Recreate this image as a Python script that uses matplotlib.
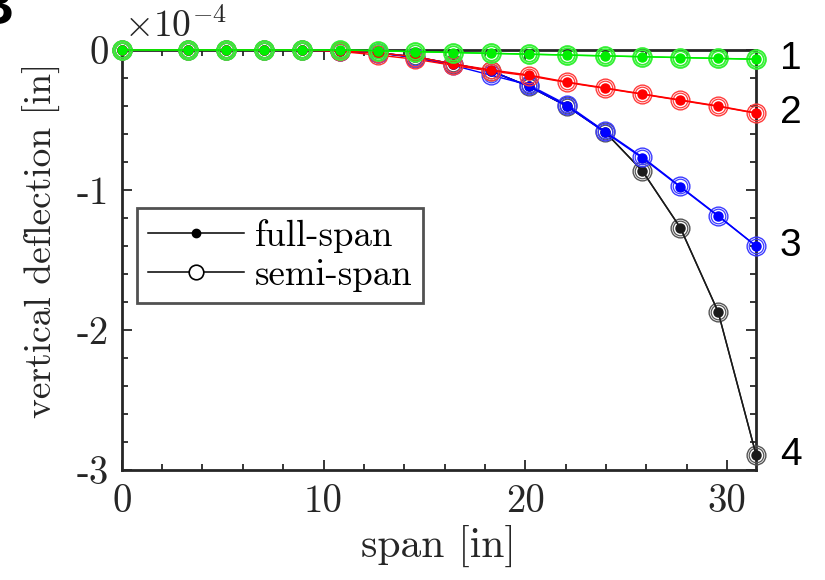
import matplotlib
matplotlib.use("Agg")
import matplotlib.pyplot as plt
from matplotlib.lines import Line2D
from matplotlib.ticker import MultipleLocator

plt.rcParams["font.family"] = "cmr10"
plt.rcParams["mathtext.fontset"] = "cm"
plt.rcParams["axes.unicode_minus"] = False

# span stations [in]
span = [0, 3.3, 5.18, 7.05, 8.93, 10.8, 12.68, 14.55, 16.43, 18.3,
        20.18, 22.05, 23.93, 25.8, 27.68, 29.55, 31.43]

# vertical deflection in units of 1e-4 in
full_1 = [0, 0, 0, 0, 0, 0, -0.005, -0.012, -0.018, -0.024, -0.03,
          -0.036, -0.042, -0.048, -0.054, -0.060, -0.066]
semi_1 = [0, 0, 0, 0, 0, 0, -0.005, -0.012, -0.018, -0.024, -0.03,
          -0.036, -0.042, -0.048, -0.054, -0.060, -0.066]
full_2 = [0, 0, 0, 0, 0, -0.005, -0.02, -0.048, -0.10, -0.143, -0.179,
          -0.229, -0.271, -0.314, -0.357, -0.40, -0.45]
semi_2 = [0, 0, 0, 0, 0, -0.01, -0.036, -0.066, -0.11, -0.15, -0.185,
          -0.232, -0.274, -0.316, -0.36, -0.403, -0.452]
full_3 = [0, 0, 0, 0, 0, -0.005, -0.02, -0.05, -0.10, -0.15, -0.26,
          -0.40, -0.586, -0.771, -0.979, -1.186, -1.40]
semi_3 = [0, 0, 0, 0, 0, -0.005, -0.02, -0.055, -0.11, -0.18, -0.25,
          -0.39, -0.58, -0.765, -0.975, -1.183, -1.40]
full_4 = [0, 0, 0, 0, 0, -0.005, -0.02, -0.05, -0.10, -0.15, -0.26,
          -0.40, -0.583, -0.864, -1.27, -1.87, -2.89]
semi_4 = [0, 0, 0, 0, 0, -0.005, -0.02, -0.05, -0.10, -0.15, -0.26,
          -0.40, -0.583, -0.864, -1.27, -1.87, -2.89]

case_labels = ["1", "2", "3", "4"]
colors = ["#00ee00", "#ff0000", "#0000ff", "#1a1a1a"]
ring_colors = ["#33f033", "#ff3c3c", "#3c3cff", "#555555"]
ring_widths = [1.4, 1.0, 1.0, 1.0]

fig = plt.figure(figsize=(8.25, 5.8), dpi=100)
ax = fig.add_axes([0.1475, 0.1897, 0.7689, 0.7241])

series = [(full_1, semi_1), (full_2, semi_2), (full_3, semi_3), (full_4, semi_4)]
# draw case 4 first so the lighter cases sit on top
for idx in [3, 2, 1, 0]:
    full, semi = series[idx]
    c = colors[idx]
    rc = ring_colors[idx]
    rw = ring_widths[idx]
    z = 3 + 2 * (3 - idx)
    ax.plot(span, semi, "-", color=c, lw=1.0, zorder=z, clip_on=False)
    ax.plot(span, semi, "o", ls="none", mfc="none", mec=rc, ms=13.5, mew=rw,
            zorder=z, clip_on=False)
    ax.plot(span, semi, "o", ls="none", mfc="none", mec=rc, ms=10.5, mew=rw * 0.9,
            zorder=z, clip_on=False)
    ax.plot(span, full, "-", color=c, lw=1.1, marker="o", ms=6.5,
            mfc=c, mec=c, zorder=z + 1, clip_on=False)

# case numbers next to the tip values
for idx, lab in enumerate(case_labels):
    full = series[idx][0]
    ax.annotate(lab, xy=(span[-1], full[-1]), xytext=(17, 0),
                textcoords="offset points", ha="left", va="center",
                fontsize=28, family="Liberation Sans", color="black",
                annotation_clip=False)

ax.set_xlim(0, span[-1])
ax.set_ylim(-3, 0)
ax.xaxis.set_minor_locator(MultipleLocator(2))
ax.yaxis.set_minor_locator(MultipleLocator(0.2))
ax.tick_params(which="both", direction="in", top=True, right=True,
               color="#262626", width=1.3, labelsize=28)
ax.tick_params(axis="x", which="major", pad=10)
ax.tick_params(axis="y", which="major", pad=9)
ax.tick_params(which="major", length=7)
ax.tick_params(which="minor", length=4)
for sp in ax.spines.values():
    sp.set_linewidth(2.0)
    sp.set_color("#262626")
ax.set_xticks([0, 10, 20, 30])
ax.set_xticklabels(["0", "10", "20", "30"], color="#262626")
ax.set_yticks([0, -1, -2, -3])
ax.set_yticklabels(["0", "-1", "-2", "-3"], color="#262626")

ax.set_xlabel("span [in]", fontsize=30, color="#262626", labelpad=4)
ax.set_ylabel("vertical deflection [in]", fontsize=27, color="#262626")
ax.yaxis.set_label_coords(-0.095, 0.548)

ax.text(0.004, 1.015, r"$\times10^{-4}$", transform=ax.transAxes,
        fontsize=27, color="#262626", ha="left", va="bottom")

handles = [
    Line2D([], [], color="black", lw=1.1, marker="o", ms=6, mfc="black",
           mec="black"),
    Line2D([], [], color="black", lw=1.1, marker="o", ms=10.5, mfc="white",
           mec="black", mew=1.2),
]
leg = ax.legend(handles, ["full-span", "semi-span"], loc="upper left",
                bbox_to_anchor=(0.024, 0.624), borderaxespad=0,
                fontsize=26.5, frameon=True, fancybox=False, handlelength=2.6,
                handletextpad=0.3, borderpad=0.3, labelspacing=0.15)
leg.get_frame().set_edgecolor("#262626")
leg.get_frame().set_linewidth(2.0)

# panel letter at the top-left corner
fig.text(13 / 825, 1 - 24 / 580, "B", fontsize=40, fontweight="bold",
         family="Liberation Sans", ha="right", va="baseline")

fig.savefig("out.png", dpi=100)
